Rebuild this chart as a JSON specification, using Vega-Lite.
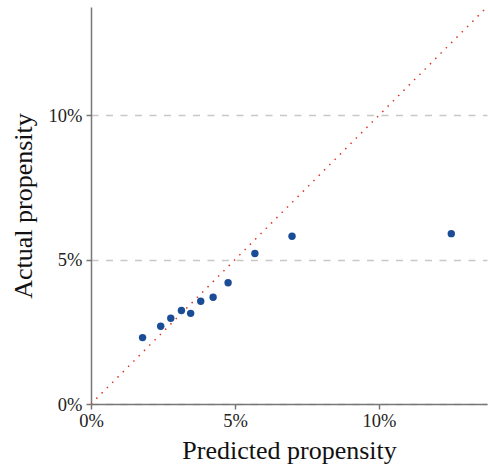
{
  "$schema": "https://vega.github.io/schema/vega-lite/v6.json",
  "width": 396,
  "height": 397,
  "autosize": {"type": "none"},
  "padding": {"left": 91, "top": 7, "right": 1, "bottom": 63},
  "background": "white",
  "config": {
    "view": {"stroke": null},
    "font": "Liberation Serif",
    "axis": {
      "labelFont": "Liberation Serif",
      "labelFontSize": 18.5,
      "labelColor": "#222",
      "titleFont": "Liberation Serif",
      "titleFontSize": 26,
      "titleFontWeight": "normal",
      "titleColor": "#111",
      "domainColor": "#777",
      "domainWidth": 1.5,
      "tickColor": "#777",
      "tickWidth": 1.5,
      "tickSize": 5
    }
  },
  "datasets": {
    "points": [
      {"predicted": 0.0179, "actual": 0.0230},
      {"predicted": 0.0242, "actual": 0.0269},
      {"predicted": 0.0277, "actual": 0.0297},
      {"predicted": 0.0314, "actual": 0.0324},
      {"predicted": 0.0346, "actual": 0.0314},
      {"predicted": 0.0381, "actual": 0.0356},
      {"predicted": 0.0424, "actual": 0.0370},
      {"predicted": 0.0476, "actual": 0.0420},
      {"predicted": 0.0569, "actual": 0.0521},
      {"predicted": 0.0698, "actual": 0.0581},
      {"predicted": 0.1251, "actual": 0.0590}
    ],
    "diagonal": [
      {"predicted": 0, "actual": 0},
      {"predicted": 0.1375, "actual": 0.1375}
    ]
  },
  "encoding": {
    "x": {
      "field": "predicted", "type": "quantitative",
      "scale": {"domain": [0, 0.1375], "nice": false},
      "axis": {"values": [0, 0.05, 0.1], "format": ".0%", "title": "Predicted propensity", "grid": false,
        "labelFont": "Liberation Serif", "labelFontSize": 18.5,
        "labelPadding": 2, "titlePadding": 8, "labelFlush": false}
    },
    "y": {
      "field": "actual", "type": "quantitative",
      "scale": {"domain": [0, 0.1375], "nice": false},
      "axis": {"values": [0, 0.05, 0.1], "format": ".0%", "title": "Actual propensity", "grid": true, "gridDash": [7, 7.5], "gridColor": "#c8c8c8", "gridWidth": 1.5,
        "labelFont": "Liberation Serif", "labelFontSize": 18.5,
        "labelPadding": 4, "titlePadding": 12, "labelFlush": false}
    }
  },
  "layer": [
    {
      "data": {"name": "diagonal"},
      "mark": {"type": "line", "color": "#e0352b", "strokeWidth": 1.5, "strokeDash": [1.5, 6], "clip": true}
    },
    {
      "data": {"name": "points"},
      "mark": {"type": "circle", "color": "#1a4d96", "opacity": 1, "size": 55}
    }
  ]
}
